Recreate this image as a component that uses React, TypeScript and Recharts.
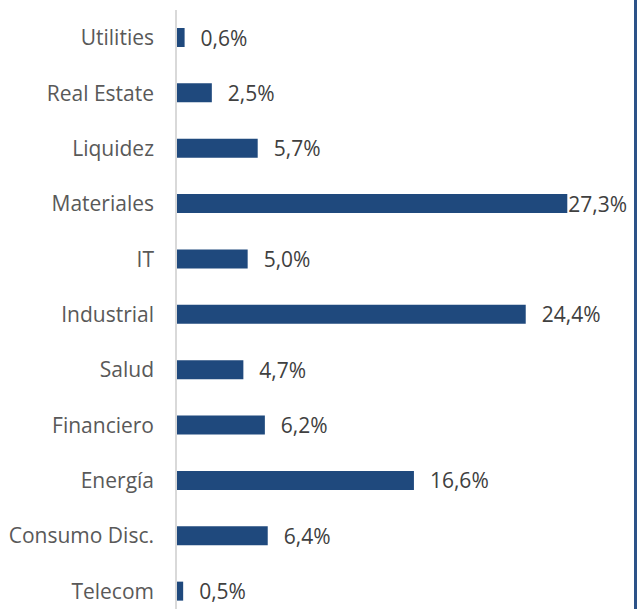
import React from 'react';
import { BarChart, Bar, XAxis, YAxis, LabelList } from 'recharts';

const categories = [
  'Utilities',
  'Real Estate',
  'Liquidez',
  'Materiales',
  'IT',
  'Industrial',
  'Salud',
  'Financiero',
  'Energía',
  'Consumo Disc.',
  'Telecom',
];
const weights = [0.6, 2.5, 5.7, 27.3, 5.0, 24.4, 4.7, 6.2, 16.6, 6.4, 0.5];

const data = categories.map((name, i) => ({ name, value: weights[i] }));

const FONT = '"Open Sans", Lato, sans-serif';
const BAR_COLOR = '#1f497d';

const fmt = (v: number) => `${v.toFixed(1).replace('.', ',')}%`;

// value label to the right of the bar, pulled in when it would run off the plot
const renderValueLabel = (props: any) => {
  const { x, y, width, height, value } = props;
  const end = x + width;
  const gap = end + 16 + 60 > 630 ? 1 : 16;
  return (
    <text
      x={end + gap}
      y={y + height / 2}
      dominantBaseline="central"
      fill="#404040"
      fontSize={21}
      fontFamily={FONT}
    >
      {fmt(value)}
    </text>
  );
};

export default function App() {
  return (
    <div
      style={{
        position: 'absolute',
        left: 0,
        top: 0,
        width: 643,
        height: 609,
        overflow: 'hidden',
        background: '#fff',
      }}
    >
      <BarChart
        layout="vertical"
        width={643}
        height={619}
        data={data}
        margin={{ top: 10, right: 37, bottom: 0, left: 0 }}
      >
        <XAxis type="number" domain={[0, 30]} hide />
        <YAxis
          type="category"
          dataKey="name"
          width={176}
          tickLine={false}
          tickSize={0}
          tickMargin={22}
          axisLine={{ stroke: '#d9d9d9', strokeWidth: 2 }}
          tick={{ fill: '#595959', fontSize: 21, fontFamily: FONT }}
          interval={0}
        />
        <Bar dataKey="value" fill={BAR_COLOR} barSize={19} isAnimationActive={false}>
          <LabelList dataKey="value" content={renderValueLabel} />
        </Bar>
      </BarChart>
      <div
        style={{
          position: 'absolute',
          left: 634,
          top: 0,
          width: 3,
          height: 609,
          background: '#2c5288',
        }}
      />
    </div>
  );
}
